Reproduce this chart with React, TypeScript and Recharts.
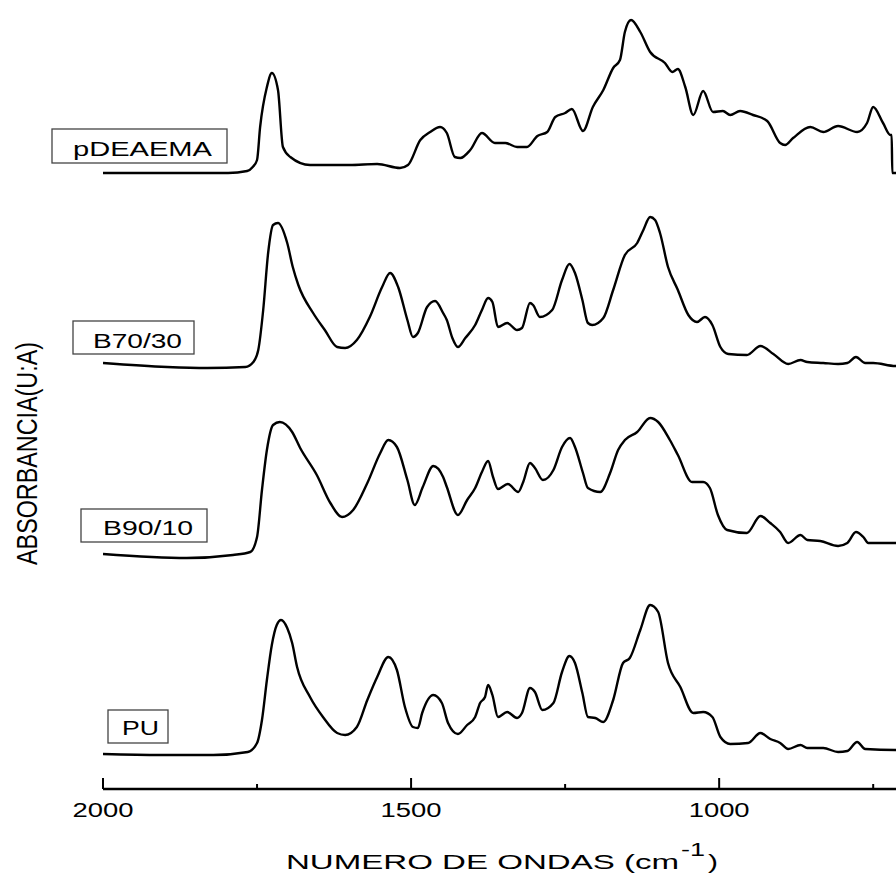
import React from "react";
import { LineChart, Line, XAxis, YAxis, Customized } from "recharts";

// FTIR spectra, [wavenumber (cm-1), absorbance above own baseline (U.A)]
const pDEAEMA: [number, number][] = [
  [2000, 0], [1797, 0], [1766, 0.02], [1757, 0.06], [1750, 0.13], [1745, 0.46], [1734, 0.86],
  [1726, 1.0], [1716, 0.83], [1708, 0.26], [1696, 0.16], [1664, 0.08], [1600, 0.08], [1555, 0.09],
  [1518, 0.05], [1505, 0.08], [1485, 0.33], [1469, 0.41], [1453, 0.46], [1442, 0.4], [1429, 0.16],
  [1420, 0.15], [1404, 0.23], [1385, 0.4], [1364, 0.3], [1347, 0.3], [1328, 0.26], [1312, 0.26],
  [1295, 0.37], [1279, 0.41], [1266, 0.56], [1250, 0.6], [1239, 0.64], [1221, 0.42], [1205, 0.66],
  [1188, 0.83], [1172, 1.05], [1161, 1.13], [1153, 1.41], [1143, 1.53], [1128, 1.41], [1112, 1.21],
  [1088, 1.1], [1076, 1.01], [1067, 1.04], [1055, 0.86], [1042, 0.58], [1026, 0.82], [1010, 0.61],
  [994, 0.62], [982, 0.58], [966, 0.62], [945, 0.58], [922, 0.52], [901, 0.3], [893, 0.28],
  [880, 0.35], [852, 0.46], [831, 0.41], [807, 0.47], [776, 0.41], [760, 0.5], [750, 0.66],
  [734, 0.5], [722, 0.38], [720, 0.38], [719, 0], [700, 0],
];

const B70_30: [number, number][] = [
  [2000, 0.05], [1896, 0.01], [1831, 0], [1769, 0.01], [1756, 0.06], [1748, 0.18], [1740, 0.58],
  [1732, 1.15], [1724, 1.43], [1716, 1.45], [1701, 1.25], [1692, 1.01], [1683, 0.83], [1659, 0.55],
  [1640, 0.38], [1620, 0.21], [1607, 0.2], [1588, 0.28], [1567, 0.51], [1547, 0.81], [1534, 0.95],
  [1521, 0.81], [1506, 0.48], [1497, 0.31], [1489, 0.35], [1474, 0.61], [1461, 0.67], [1448, 0.55],
  [1442, 0.48], [1433, 0.3], [1424, 0.21], [1412, 0.3], [1396, 0.43], [1385, 0.58], [1375, 0.7],
  [1368, 0.66], [1359, 0.41], [1344, 0.45], [1328, 0.38], [1320, 0.4], [1307, 0.65], [1302, 0.63],
  [1291, 0.51], [1271, 0.58], [1255, 0.88], [1243, 1.04], [1234, 0.95], [1222, 0.68], [1213, 0.45],
  [1206, 0.43], [1188, 0.5], [1172, 0.78], [1153, 1.13], [1133, 1.25], [1123, 1.38], [1112, 1.51],
  [1104, 1.48], [1096, 1.35], [1083, 1.01], [1067, 0.78], [1050, 0.53], [1036, 0.46], [1023, 0.51],
  [1011, 0.43], [998, 0.21], [985, 0.14], [955, 0.13], [933, 0.22], [912, 0.14], [888, 0.04],
  [868, 0.08], [857, 0.06], [831, 0.05], [807, 0.04], [792, 0.05], [778, 0.11], [763, 0.05],
  [750, 0.05], [714, 0.02], [700, 0.02],
];

const B90_10: [number, number][] = [
  [2000, 0.04], [1864, 0], [1789, 0.03], [1761, 0.06], [1750, 0.21], [1742, 0.68], [1734, 1.08],
  [1724, 1.33], [1713, 1.36], [1693, 1.26], [1680, 1.1], [1653, 0.83], [1631, 0.55], [1612, 0.41],
  [1594, 0.48], [1571, 0.75], [1550, 1.05], [1537, 1.18], [1523, 1.11], [1506, 0.78], [1494, 0.53],
  [1481, 0.71], [1464, 0.92], [1448, 0.81], [1442, 0.71], [1424, 0.43], [1409, 0.58], [1396, 0.7],
  [1385, 0.86], [1375, 0.97], [1367, 0.81], [1359, 0.69], [1343, 0.74], [1326, 0.66], [1318, 0.76],
  [1307, 0.95], [1299, 0.9], [1286, 0.78], [1269, 0.88], [1255, 1.11], [1242, 1.2], [1234, 1.11],
  [1221, 0.85], [1213, 0.7], [1193, 0.66], [1177, 0.85], [1164, 1.08], [1153, 1.18], [1133, 1.26],
  [1112, 1.4], [1099, 1.36], [1080, 1.18], [1067, 1.03], [1044, 0.76], [1026, 0.76], [1015, 0.7],
  [1002, 0.43], [987, 0.28], [955, 0.25], [933, 0.42], [917, 0.35], [901, 0.26], [888, 0.15],
  [868, 0.23], [857, 0.18], [836, 0.17], [807, 0.12], [792, 0.15], [778, 0.26], [766, 0.21],
  [758, 0.15], [714, 0.15], [700, 0.15],
];

const PU: [number, number][] = [
  [2000, 0.01], [1907, 0], [1821, 0], [1765, 0.03], [1750, 0.12], [1742, 0.35], [1734, 0.75],
  [1726, 1.1], [1718, 1.3], [1711, 1.35], [1701, 1.27], [1693, 1.12], [1685, 0.88], [1664, 0.58],
  [1643, 0.38], [1620, 0.22], [1607, 0.2], [1588, 0.28], [1571, 0.55], [1555, 0.78], [1537, 0.98],
  [1523, 0.85], [1510, 0.48], [1497, 0.28], [1489, 0.27], [1482, 0.42], [1464, 0.6], [1450, 0.52],
  [1440, 0.32], [1424, 0.21], [1409, 0.3], [1396, 0.38], [1388, 0.52], [1380, 0.58], [1375, 0.7],
  [1368, 0.6], [1359, 0.38], [1344, 0.43], [1328, 0.37], [1320, 0.42], [1307, 0.67], [1299, 0.63],
  [1287, 0.45], [1269, 0.52], [1255, 0.83], [1243, 0.99], [1234, 0.92], [1222, 0.62], [1213, 0.38],
  [1201, 0.37], [1188, 0.33], [1172, 0.55], [1156, 0.92], [1145, 0.97], [1128, 1.25], [1112, 1.5],
  [1099, 1.43], [1083, 0.92], [1063, 0.68], [1042, 0.42], [1026, 0.43], [1011, 0.38], [998, 0.18],
  [982, 0.11], [953, 0.12], [933, 0.22], [917, 0.16], [901, 0.12], [888, 0.06], [868, 0.1],
  [857, 0.07], [831, 0.07], [807, 0.03], [792, 0.04], [776, 0.13], [763, 0.06], [714, 0.05],
  [700, 0.05],
];

const SAMPLE_NAMES = ["pDEAEMA", "B70/30", "B90/10", "PU"];
const SAMPLE_DATA = [pDEAEMA, B70_30, B90_10, PU];
// vertical shift of each spectrum so they stack
const OFFSETS = [6.16, 4.21, 2.31, 0.34];
const WAVENUMBER_TICKS = [2000, 1750, 1500, 1250, 1000, 750];

const FONT = "'Liberation Sans', Arial, Helvetica, sans-serif";

// label boxes next to the start of each trace (pixels)
const LABEL_BOXES = [
  { x: 52, y: 129, w: 175, h: 34, tx: 73, ty: 156, tl: 139 },
  { x: 73, y: 321, w: 121, h: 33, tx: 93, ty: 348, tl: 89 },
  { x: 81, y: 509, w: 126, h: 33, tx: 103, ty: 535, tl: 90 },
  { x: 108, y: 710, w: 60, h: 33, tx: 122, ty: 735, tl: 37 },
];

const series = SAMPLE_DATA.map((pts, i) =>
  pts.map(([wn, a]) => ({ wn, a: +(a + OFFSETS[i]).toFixed(3) }))
);

function WavenumberTick({ x, y, payload }: any) {
  const major = payload.value % 500 === 0;
  return (
    <g>
      <line x1={x} x2={x} y1={y} y2={y - (major ? 11 : 5)} stroke="#000" strokeWidth={2} />
      {major && (
        <text
          x={x}
          y={y + 28}
          textAnchor="middle"
          fontSize={19.5}
          fontFamily={FONT}
          fill="#000"
          textLength={61}
          lengthAdjust="spacingAndGlyphs"
        >
          {payload.value}
        </text>
      )}
    </g>
  );
}

function Annotations() {
  return (
    <g fontFamily={FONT} fill="#000">
      {LABEL_BOXES.map((b, i) => (
        <g key={SAMPLE_NAMES[i]}>
          <rect x={b.x} y={b.y} width={b.w} height={b.h} fill="#fff" stroke="#444" strokeWidth={1.3} />
          <text x={b.tx} y={b.ty} fontSize={19.5} textLength={b.tl} lengthAdjust="spacingAndGlyphs">
            {SAMPLE_NAMES[i]}
          </text>
        </g>
      ))}
      <text
        transform="translate(37 453.5) scale(1.5 1) rotate(-90)"
        textAnchor="middle"
        fontSize={20}
        textLength={223}
        lengthAdjust="spacingAndGlyphs"
      >
        ABSORBANCIA(U:A)
      </text>
      <text x={286} y={869} fontSize={21} textLength={393} lengthAdjust="spacingAndGlyphs">
        NUMERO DE ONDAS (cm
      </text>
      <text x={681} y={856} fontSize={19} textLength={24} lengthAdjust="spacingAndGlyphs">
        -1
      </text>
      <text x={708} y={869} fontSize={21} textLength={10} lengthAdjust="spacingAndGlyphs">
        )
      </text>
    </g>
  );
}

export default function App() {
  return (
    <div
      style={{
        position: "absolute",
        left: 0,
        top: 0,
        width: 896,
        height: 873,
        overflow: "hidden",
        background: "#fff",
      }}
    >
      <LineChart width={904} height={873} margin={{ top: 0, right: 0, left: 103, bottom: 0 }}>
        <XAxis
          type="number"
          dataKey="wn"
          domain={[700, 2000]}
          reversed
          allowDataOverflow
          ticks={WAVENUMBER_TICKS}
          interval={0}
          height={84}
          tickSize={0}
          tickMargin={0}
          tickLine={false}
          axisLine={{ stroke: "#000", strokeWidth: 2.5 }}
          tick={<WavenumberTick />}
        />
        <YAxis type="number" domain={[0, 7.89]} hide />
        {series.map((d, i) => (
          <Line
            key={SAMPLE_NAMES[i]}
            data={d}
            dataKey="a"
            name={SAMPLE_NAMES[i]}
            type="monotone"
            stroke="#000"
            strokeWidth={2.4}
            dot={false}
            isAnimationActive={false}
          />
        ))}
        <Customized component={<Annotations />} />
      </LineChart>
    </div>
  );
}
